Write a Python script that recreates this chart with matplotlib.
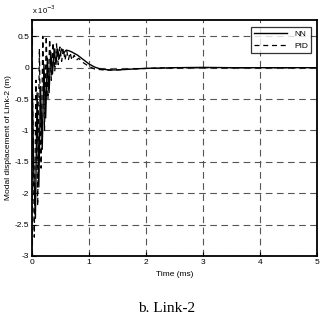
import matplotlib
matplotlib.use("Agg")
import matplotlib.pyplot as plt
import numpy as np

# Link-2 modal displacement (x 1e-3 m)
t_nn = [0.00, 0.03, 0.06, 0.09, 0.12, 0.15, 0.18, 0.21, 0.24, 0.27, 0.30, 0.33,
        0.36, 0.39, 0.42, 0.45, 0.48, 0.52, 0.56, 0.60, 0.65, 0.70, 0.80, 0.90,
        1.00, 1.10, 1.20, 1.35, 1.50, 1.70, 2.00, 2.50, 3.00, 3.50, 4.00, 5.00]
y_nn = [0.0, -1.6, -2.4, -0.4, -1.9, -0.3, -1.3, 0.05, -0.8, 0.15, -0.4, 0.25,
        -0.1, 0.3, 0.05, 0.3, 0.15, 0.3, 0.24, 0.28, 0.27, 0.25, 0.2, 0.13,
        0.06, 0.01, -0.02, -0.035, -0.035, -0.025, -0.01, 0.0, 0.005, 0.0, 0.0, 0.0]

t_pid = [0.00, 0.02, 0.04, 0.07, 0.10, 0.13, 0.16, 0.19, 0.22, 0.25, 0.28, 0.31,
         0.34, 0.37, 0.40, 0.43, 0.46, 0.49, 0.52, 0.55, 0.58, 0.61, 0.64, 0.67,
         0.70, 0.74, 0.78, 0.82, 0.90, 1.00, 1.10, 1.30, 1.50, 1.80, 2.20, 3.00, 5.00]
y_pid = [0.0, -1.0, -2.7, -0.2, -2.2, 0.3, -1.6, 0.5, -1.0, 0.5, -0.5, 0.45,
         -0.2, 0.4, -0.05, 0.38, 0.05, 0.33, 0.1, 0.3, 0.12, 0.27, 0.13, 0.24,
         0.12, 0.2, 0.12, 0.15, 0.08, 0.02, -0.02, -0.04, -0.035, -0.02, -0.005, 0.0, 0.0]

xticks = [0, 1, 2, 3, 4, 5]
yticks = [-3, -2.5, -2, -1.5, -1, -0.5, 0, 0.5]

plt.rcParams['font.family'] = ['Liberation Sans', 'DejaVu Sans']

fig = plt.figure(figsize=(3.23, 3.2), dpi=100)
ax = fig.add_axes([0.099, 0.2, 0.882, 0.7375])

ax.plot(t_nn, y_nn, color='black', linewidth=1.0, label='NN')
ax.plot(t_pid, y_pid, color='black', linewidth=0.9, linestyle=(0, (4, 3)), label='PID')

ax.set_xlim(0, 5)
ax.set_ylim(-3, 0.76)
ax.set_xticks(xticks)
ax.set_xticklabels([str(v) for v in xticks])
ax.set_yticks(yticks)
ax.set_yticklabels([f"{v:g}" for v in yticks])
ax.tick_params(direction='in', labelsize=6, length=3, width=0.8, pad=2)
ax.grid(True, color='#555555', linestyle=(0, (6, 4)), linewidth=0.8)
for s in ax.spines.values():
    s.set_linewidth(1.3)

ax.set_xlabel('Time (ms)', fontsize=6, labelpad=4)
ax.set_ylabel('Modal displacement of Link-2 (m)', fontsize=6, labelpad=2)
ax.text(0.0, 1.015, r'x 10$^{-3}$', transform=ax.transAxes, fontsize=5.5,
        ha='left', va='bottom')

leg = ax.legend(loc='upper right', fontsize=6, handlelength=4, frameon=True,
                fancybox=False, borderpad=0.4, labelspacing=0.5,
                bbox_to_anchor=(0.995, 0.99))
leg.get_frame().set_edgecolor('black')
leg.get_frame().set_linewidth(0.9)

fig.text(0.517, 0.037, 'b. Link-2', fontsize=11, ha='center', va='center',
         family=['Liberation Serif', 'DejaVu Serif'])

fig.savefig('out.png', dpi=100)
